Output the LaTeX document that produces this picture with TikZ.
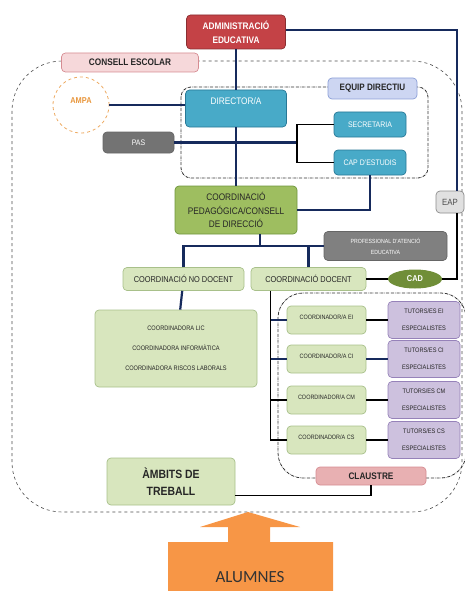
\documentclass[tikz,border=0pt]{standalone}
\usepackage{fontspec}
\setmainfont{Liberation Sans}[FakeStretch=0.87]
\newfontfamily\alumnesfont{Carlito}
\usetikzlibrary{shapes.geometric}
\definecolor{navy}{RGB}{22,42,92}
\definecolor{redbox}{RGB}{196,66,70}
\definecolor{pinkbox}{RGB}{246,216,218}
\definecolor{pinkline}{RGB}{214,140,146}
\definecolor{aqua}{RGB}{72,170,200}
\definecolor{aqualine}{RGB}{40,120,150}
\definecolor{lavender}{RGB}{205,214,242}
\definecolor{lavline}{RGB}{140,160,215}
\definecolor{greenbox}{RGB}{158,190,96}
\definecolor{greenline}{RGB}{110,150,60}
\definecolor{lightgreen}{RGB}{216,230,190}
\definecolor{olive}{RGB}{112,142,56}
\definecolor{purplebox}{RGB}{205,193,222}
\definecolor{purpleline}{RGB}{150,130,185}
\definecolor{claustrepink}{RGB}{232,176,178}
\definecolor{ampaorange}{RGB}{232,150,60}
\definecolor{alumnesorange}{RGB}{247,150,70}

\begin{document}
\begin{tikzpicture}[x=1pt, y=-1pt,
    box/.style={draw, rounded corners=4pt, align=center, inner sep=1pt, line width=0.7pt, text=black!85},
    aquabox/.style={box, fill=aqua, draw=aqualine, text=white, minimum width=72pt, minimum height=25pt, font=\fontsize{8}{10}\selectfont},
    greenlight/.style={box, fill=lightgreen, draw=greenline!60},
    coordbox/.style={greenlight, minimum width=79pt, minimum height=28pt, text depth=6pt, font=\fontsize{6.3}{8}\selectfont},
    tutorbox/.style={box, fill=purplebox, draw=purpleline, minimum width=72pt, minimum height=37pt, font=\fontsize{6.5}{17}\selectfont},
    link/.style={navy, line width=2.2pt},
    blink/.style={black, line width=1.8pt}]
    \useasboundingbox (0,0) rectangle (464,591);
    % groups
    \draw[dashed, black!70, line width=0.6pt, rounded corners=50pt] (12,61) rectangle (462,512);
    \draw[densely dashdotted, black!80, line width=0.8pt, rounded corners=10pt] (181,87) rectangle (428,178);
    \draw[densely dashdotted, black!80, line width=0.8pt, rounded corners=25pt] (278,293) rectangle (466,478);

    \node[box, fill=redbox, draw=redbox!70!black, text=white, minimum width=99pt, minimum height=34pt,
        font=\fontsize{9.5}{14}\selectfont\bfseries] (admin) at (236,32) {ADMINISTRACIÓ\\EDUCATIVA};
    \node[box, fill=pinkbox, draw=pinkline, minimum width=137pt, minimum height=19pt,
        font=\fontsize{9.5}{11}\selectfont\bfseries] (consell) at (130,62.5) {CONSELL ESCOLAR};
    \node[circle, draw=ampaorange!80, dashed, line width=0.8pt, minimum size=56pt, text depth=8pt,
        text=ampaorange, font=\fontsize{8.5}{10}\selectfont\bfseries] (ampa) at (81,105) {AMPA};
    \node[box, fill=aqua, draw=aqualine, text=white, minimum width=101pt, minimum height=37pt, text depth=14pt,
        font=\fontsize{9.5}{11}\selectfont] (director) at (236,108.5) {DIRECTOR/A};
    \node[box, fill=lavender, draw=lavline, minimum width=89pt, minimum height=21pt,
        font=\fontsize{9.3}{11}\selectfont\bfseries] (equip) at (372.5,88.5) {EQUIP DIRECTIU};
    \node[aquabox] (secretaria) at (370,124.5) {SECRETARIA};
    \node[aquabox] (capestudis) at (370,162.5) {CAP D'ESTUDIS};
    \node[box, fill=black!55, draw=black!60, text=white, minimum width=71pt, minimum height=21pt,
        font=\fontsize{8}{9}\selectfont] (pas) at (138.5,142.5) {PAS};
    \node[box, fill=greenbox, draw=greenline, minimum width=122pt, minimum height=48pt,
        font=\fontsize{9.5}{13.5}\selectfont] (coordped) at (236,210) {COORDINACIÓ\\PEDAGÓGICA/CONSELL\\DE DIRECCIÓ};
    \node[box, fill=black!50, draw=black!60, text=white, minimum width=123pt, minimum height=29pt,
        font=\fontsize{6}{11}\selectfont] (prof) at (385.5,246) {PROFESSIONAL D'ATENCIÓ\\EDUCATIVA};
    \node[box, fill=black!12, draw=black!45, text=black!70, minimum width=28pt, minimum height=22pt,
        font=\fontsize{9}{11}\selectfont] (eap) at (450,202) {EAP};
    \node[greenlight, minimum width=121pt, minimum height=23pt, font=\fontsize{8.5}{10}\selectfont] (nodocent) at (183.5,279) {COORDINACIÓ NO DOCENT};
    \node[greenlight, minimum width=115pt, minimum height=23pt, font=\fontsize{8.5}{10}\selectfont] (docent) at (308.5,279) {COORDINACIÓ DOCENT};
    \node[ellipse, fill=olive, text=white, minimum width=54pt, minimum height=19pt, inner sep=0pt,
        font=\fontsize{8.5}{10}\selectfont\bfseries] (cad) at (415,279) {CAD};
    \node[greenlight, minimum width=162pt, minimum height=77pt, font=\fontsize{6.5}{20}\selectfont] (lic) at (176,348.5)
        {COORDINADORA LIC\\COORDINADORA INFORMÀTICA\\COORDINADORA RISCOS LABORALS};
    \foreach \n/\lab/\y in {ei/EI/320, ci/CI/359, cm/CM/400, cs/CS/440} {
        \node[coordbox] (\n) at (326.5,\y) {COORDINADOR/A \lab};
        \node[tutorbox] (t\n) at (424,\y) {TUTORS/ES \lab\\ESPECIALISTES};
    }
    \node[box, fill=claustrepink, draw=pinkline, minimum width=110pt, minimum height=18pt,
        font=\fontsize{9.5}{11}\selectfont\bfseries] (claustre) at (371,476) {CLAUSTRE};
    \node[greenlight, minimum width=128pt, minimum height=47pt,
        font=\fontsize{12}{17}\selectfont\bfseries] (ambits) at (171,481.5) {ÀMBITS DE\\TREBALL};

    % connectors
    \draw[link] (admin) -- (director);
    \draw[link] ([yshift=2pt]admin.east) -| ([xshift=7pt]eap.north);
    \draw[blink] ([xshift=7pt]eap.south) |- (cad.east);
    \draw[link] (ampa.east) -- (ampa.east -| director.west);
    \coordinate (pasjoin) at (297,142.5);
    \draw[link] (pas.east) -- (pasjoin);
    \draw[blink] (secretaria.west) -| (pasjoin) |- (capestudis.west);
    \draw[link] (director) -- (coordped);
    \draw[link] (capestudis.south) |- (coordped.east);
    \draw[link] ([xshift=24pt]coordped.south) |- (prof.west);
    \draw[link] (nodocent.north) |- (prof.west);
    \draw[link] (docent.north) -- (docent.north |- prof.west);
    \draw[link] (nodocent) -- (lic);
    \draw[blink] (docent.east) -- (cad.west);
    \coordinate (trunk) at ([xshift=-38pt]docent.south);
    \draw[blink] (trunk) |- (cs.west);
    \foreach \n/\c in {ei/navy, ci/navy, cm/black}
        \draw[\c, line width=1.8pt] (trunk |- \n.west) -- (\n.west);
    \foreach \n/\c in {ei/black, ci/navy, cm/black, cs/black}
        \draw[\c, line width=1.8pt] (\n.east) -- (t\n.west);
    \draw[blink] ([yshift=-14pt]ambits.east) -| (claustre.south);

    % alumnes
    \fill[alumnesorange] (248,512) -- (300,527) -- (270,527) -- (270,542) -- (333,542) -- (333,591)
        -- (168,591) -- (168,542) -- (228,542) -- (228,527) -- (200,527) -- cycle;
    \node[text=black!80, font=\alumnesfont\fontsize{17}{20}\selectfont] (alumnes) at (250,577) {ALUMNES};
\end{tikzpicture}
\end{document}
